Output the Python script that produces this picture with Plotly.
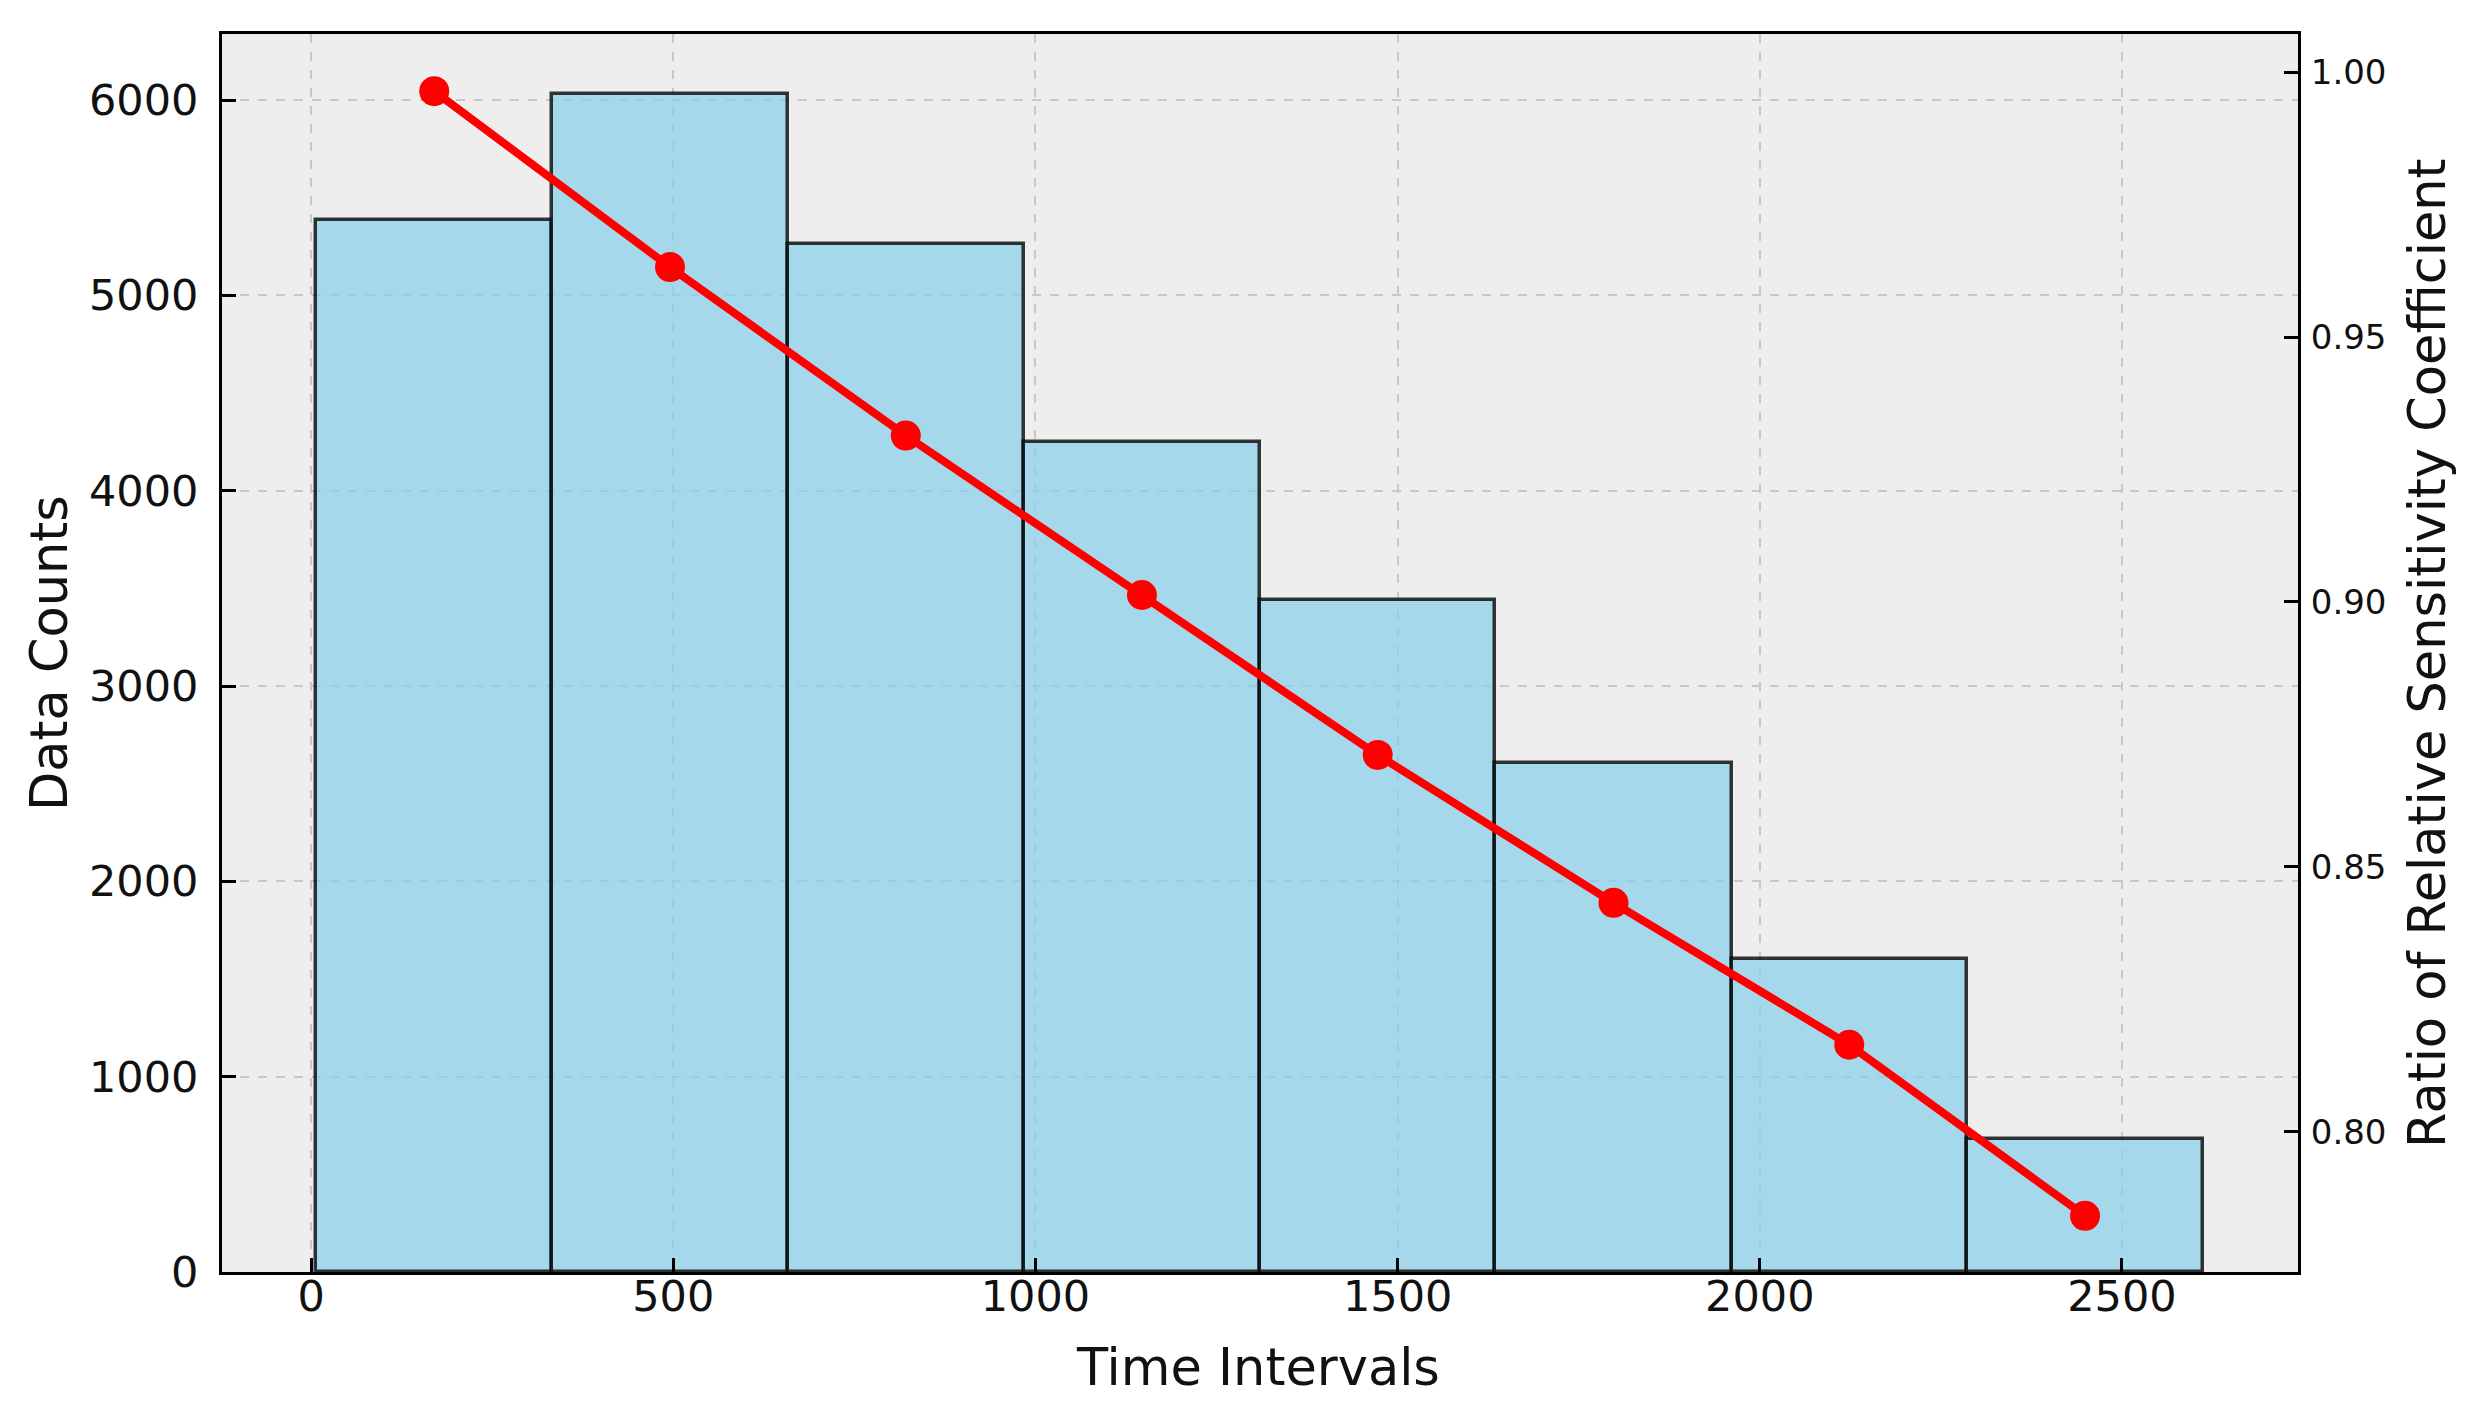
import plotly.graph_objects as go

# ---- data ----
bin_edges = [7, 333, 658, 984, 1310, 1635, 1961, 2286, 2612]
counts = [5387, 6030, 5265, 4248, 3441, 2605, 1601, 683]
ratio = [0.9964, 0.9632, 0.9314, 0.9013, 0.8711, 0.8432, 0.8164, 0.7841]

x_ticks = [0, 500, 1000, 1500, 2000, 2500]
y_ticks = [0, 1000, 2000, 3000, 4000, 5000, 6000]
y2_ticks = [0.80, 0.85, 0.90, 0.95, 1.00]

centers = [(a + b) / 2 for a, b in zip(bin_edges[:-1], bin_edges[1:])]
widths = [b - a for a, b in zip(bin_edges[:-1], bin_edges[1:])]

FONT = "DejaVu Sans"

fig = go.Figure()
fig.add_trace(go.Bar(
    x=centers, y=counts, width=widths,
    marker=dict(color="rgba(135,206,235,0.7)",
                line=dict(color="rgba(0,0,0,0.78)", width=3.5)),
    showlegend=False, yaxis="y",
))
fig.add_trace(go.Scatter(
    x=centers, y=ratio, mode="lines+markers",
    line=dict(color="#ff0000", width=8),
    marker=dict(color="#ff0000", size=30),
    showlegend=False, yaxis="y2",
))

axis_common = dict(
    showline=True, linecolor="black", linewidth=3,
    ticks="inside", ticklen=14, tickwidth=3, tickcolor="black",
    zeroline=False,
)

fig.update_layout(
    width=2458, height=1414,
    margin=dict(l=214, r=168, t=26, b=150),
    paper_bgcolor="white", plot_bgcolor="#eeeeee",
    font=dict(family=FONT, color="#111111"),
    bargap=0,
    xaxis=dict(
        range=[-123, 2743], tickvals=x_ticks, mirror=True,
        showgrid=True, gridcolor="#c8c8c8", griddash="dash", gridwidth=2,
        tickfont=dict(size=43, family=FONT, color="#111111"),
        ticklabelstandoff=-16,
        **axis_common,
    ),
    yaxis=dict(
        range=[0, 6338], tickvals=y_ticks, mirror=True,
        showgrid=True, gridcolor="#c8c8c8", griddash="dash", gridwidth=2,
        tickfont=dict(size=43, family=FONT, color="#111111"),
        ticklabelstandoff=12,
        **axis_common,
    ),
    yaxis2=dict(
        overlaying="y", side="right", range=[0.7735, 1.0072],
        tickvals=y2_ticks, tickformat=".2f", showgrid=False,
        tickfont=dict(size=34, family=FONT, color="#111111"),
        ticklabelstandoff=3,
        **axis_common,
    ),
    annotations=[
        dict(text="Time Intervals", xref="paper", yref="paper",
             x=0.499, y=-0.0775, showarrow=False, xanchor="center", yanchor="middle",
             font=dict(size=51, family=FONT, color="#111111")),
        dict(text="Data Counts", xref="paper", yref="paper",
             x=-0.0833, y=0.5, showarrow=False, textangle=-90,
             xanchor="center", yanchor="middle",
             font=dict(size=51, family=FONT, color="#111111")),
        dict(text="Ratio of Relative Sensitivity Coefficient", xref="paper", yref="paper",
             x=1.0621, y=0.5, showarrow=False, textangle=-90,
             xanchor="center", yanchor="middle",
             font=dict(size=51, family=FONT, color="#111111")),
    ],
)

fig.write_html("out.html")
